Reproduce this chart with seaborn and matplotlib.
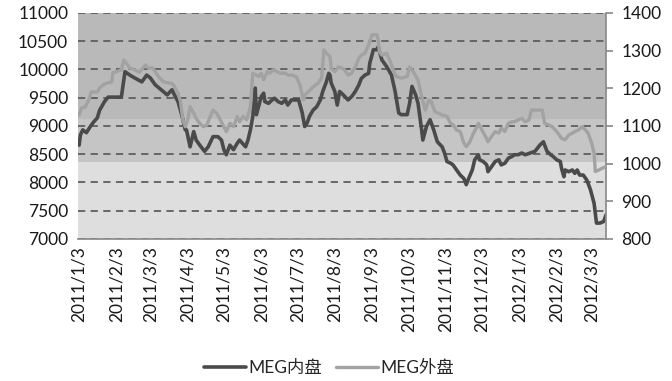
import matplotlib
matplotlib.use('Agg')
import matplotlib.pyplot as plt
import seaborn as sns
import pandas as pd

# MEG内盘 (left axis, yuan/t)
in_dates = [
    '2011-01-03', '2011-01-04', '2011-01-06', '2011-01-09', '2011-01-12', '2011-01-15', '2011-01-18', '2011-01-20', '2011-01-24', '2011-01-27',
    '2011-02-07', '2011-02-10', '2011-02-14', '2011-02-18', '2011-02-24', '2011-02-28',
    '2011-03-03', '2011-03-07', '2011-03-12', '2011-03-17', '2011-03-21', '2011-03-23', '2011-03-26', '2011-03-29',
    '2011-04-01', '2011-04-02', '2011-04-05', '2011-04-08', '2011-04-10', '2011-04-13', '2011-04-17', '2011-04-20', '2011-04-24', '2011-04-28',
    '2011-05-01', '2011-05-03', '2011-05-05', '2011-05-08', '2011-05-11', '2011-05-14', '2011-05-16', '2011-05-21', '2011-05-23', '2011-05-25', '2011-05-27', '2011-05-29', '2011-05-30',
    '2011-06-03', '2011-06-05', '2011-06-06', '2011-06-09', '2011-06-12', '2011-06-14', '2011-06-17', '2011-06-20', '2011-06-23', '2011-06-25', '2011-06-28',
    '2011-07-01', '2011-07-04', '2011-07-07', '2011-07-09', '2011-07-11', '2011-07-13', '2011-07-16', '2011-07-19', '2011-07-22', '2011-07-24', '2011-07-27', '2011-07-29', '2011-07-30', '2011-07-31',
    '2011-08-03', '2011-08-05', '2011-08-07', '2011-08-10', '2011-08-14', '2011-08-17', '2011-08-20', '2011-08-23', '2011-08-25', '2011-08-28', '2011-08-31',
    '2011-09-01', '2011-09-04', '2011-09-07', '2011-09-08', '2011-09-11', '2011-09-15', '2011-09-19', '2011-09-22', '2011-09-25', '2011-09-27',
    '2011-10-02', '2011-10-04', '2011-10-06', '2011-10-09', '2011-10-11', '2011-10-14', '2011-10-15', '2011-10-18', '2011-10-21', '2011-10-24', '2011-10-27', '2011-10-31',
    '2011-11-02', '2011-11-04', '2011-11-07', '2011-11-09', '2011-11-12', '2011-11-15', '2011-11-18', '2011-11-20', '2011-11-22', '2011-11-25', '2011-11-27', '2011-11-30',
    '2011-12-01', '2011-12-04', '2011-12-07', '2011-12-08', '2011-12-11', '2011-12-14', '2011-12-17', '2011-12-19', '2011-12-22', '2011-12-25', '2011-12-28', '2011-12-30',
    '2012-01-02', '2012-01-05', '2012-01-08', '2012-01-12', '2012-01-16', '2012-01-20', '2012-01-23', '2012-01-24', '2012-01-26', '2012-01-29', '2012-01-31',
    '2012-02-03', '2012-02-06', '2012-02-07', '2012-02-09', '2012-02-10', '2012-02-13', '2012-02-16', '2012-02-18', '2012-02-20', '2012-02-22', '2012-02-25', '2012-02-28',
    '2012-03-02', '2012-03-05', '2012-03-07', '2012-03-10', '2012-03-13', '2012-03-15',
]
in_values = [
    8660, 8840, 8930, 8880, 8980, 9070, 9140, 9280, 9430, 9510,
    9510, 9960, 9900, 9850, 9780, 9900,
    9850, 9730, 9640, 9550, 9640, 9550, 9430, 9200,
    8930, 8930, 8630, 8900, 8750, 8660, 8550, 8630, 8810, 8810,
    8750, 8580, 8490, 8660, 8580, 8690, 8750, 8630, 8750, 8930, 9170, 9670, 9200,
    9520, 9580, 9430, 9400, 9460, 9490, 9430, 9400, 9460, 9370, 9460,
    9460, 9460, 9230, 8990, 9050, 9170, 9280, 9340, 9460, 9610, 9780, 9930, 9900, 9760,
    9610, 9370, 9610, 9550, 9460, 9520, 9610, 9730, 9840, 9900, 9930,
    10110, 10350, 10350, 10400, 10170, 10050, 9900, 9610, 9230, 9200,
    9200, 9400, 9700, 9550, 9400, 8930, 8750, 8990, 9110, 8930, 8720, 8630,
    8520, 8370, 8340, 8310, 8220, 8130, 8070, 7960, 8070, 8220, 8400, 8490,
    8400, 8370, 8310, 8190, 8280, 8370, 8400, 8310, 8340, 8430, 8460, 8490,
    8490, 8520, 8490, 8520, 8550, 8660, 8720, 8660, 8550, 8490, 8460,
    8400, 8370, 8250, 8100, 8220, 8190, 8220, 8160, 8220, 8130, 8130, 8040,
    7870, 7630, 7280, 7280, 7310, 7430,
]

# MEG外盘 (right axis, USD/t)
out_dates = [
    '2011-01-03', '2011-01-05', '2011-01-08', '2011-01-11', '2011-01-13', '2011-01-18', '2011-01-20', '2011-01-23', '2011-01-26', '2011-01-30', '2011-01-31',
    '2011-02-07', '2011-02-09', '2011-02-11', '2011-02-14', '2011-02-18', '2011-02-22', '2011-02-27',
    '2011-03-01', '2011-03-05', '2011-03-10', '2011-03-14', '2011-03-18', '2011-03-21', '2011-03-23', '2011-03-26', '2011-03-28', '2011-03-30',
    '2011-04-01', '2011-04-03', '2011-04-05', '2011-04-08', '2011-04-10', '2011-04-13', '2011-04-16', '2011-04-19', '2011-04-21', '2011-04-24', '2011-04-27', '2011-04-30',
    '2011-05-03', '2011-05-05', '2011-05-08', '2011-05-11', '2011-05-14', '2011-05-16', '2011-05-19', '2011-05-22', '2011-05-25', '2011-05-27',
    '2011-06-01', '2011-06-03', '2011-06-05', '2011-06-08', '2011-06-10', '2011-06-13', '2011-06-16', '2011-06-19', '2011-06-23', '2011-06-25', '2011-06-28',
    '2011-07-02', '2011-07-05', '2011-07-08', '2011-07-09', '2011-07-12', '2011-07-15', '2011-07-18', '2011-07-20', '2011-07-23', '2011-07-25', '2011-07-27', '2011-07-30', '2011-07-31',
    '2011-08-03', '2011-08-06', '2011-08-09', '2011-08-11', '2011-08-14', '2011-08-17', '2011-08-20', '2011-08-23', '2011-08-25', '2011-08-28', '2011-08-31',
    '2011-09-03', '2011-09-07', '2011-09-08', '2011-09-09', '2011-09-11', '2011-09-15', '2011-09-18', '2011-09-21', '2011-09-23', '2011-09-27',
    '2011-10-02', '2011-10-04', '2011-10-07', '2011-10-11', '2011-10-14', '2011-10-17', '2011-10-20', '2011-10-22', '2011-10-25', '2011-10-31',
    '2011-11-04', '2011-11-07', '2011-11-09', '2011-11-12', '2011-11-15', '2011-11-18', '2011-11-20', '2011-11-23', '2011-11-26', '2011-11-29', '2011-11-30',
    '2011-12-03', '2011-12-06', '2011-12-08', '2011-12-11', '2011-12-14', '2011-12-17', '2011-12-19', '2011-12-22', '2011-12-25', '2011-12-28', '2011-12-30',
    '2012-01-02', '2012-01-05', '2012-01-08', '2012-01-11', '2012-01-13', '2012-01-17', '2012-01-22', '2012-01-24', '2012-01-27', '2012-01-30',
    '2012-02-02', '2012-02-04', '2012-02-07', '2012-02-10', '2012-02-13', '2012-02-16', '2012-02-18', '2012-02-21', '2012-02-24', '2012-02-27', '2012-02-29',
    '2012-03-03', '2012-03-05', '2012-03-06', '2012-03-09', '2012-03-12', '2012-03-15',
]
out_values = [
    1129, 1148, 1150, 1169, 1190, 1190, 1201, 1209, 1214, 1217, 1241,
    1249, 1275, 1267, 1254, 1249, 1243, 1262,
    1254, 1254, 1230, 1217, 1214, 1213, 1204, 1187, 1165, 1116,
    1098, 1116, 1151, 1134, 1120, 1107, 1098, 1103, 1120, 1142, 1134, 1116,
    1098, 1085, 1107, 1098, 1125, 1111, 1125, 1116, 1151, 1240,
    1231, 1240, 1222, 1244, 1240, 1249, 1244, 1240, 1240, 1235, 1235,
    1231, 1209, 1169, 1182, 1191, 1200, 1209, 1213, 1227, 1302, 1293, 1284, 1253,
    1244, 1257, 1253, 1249, 1235, 1240, 1257, 1280, 1288, 1293, 1315,
    1342, 1342, 1328, 1297, 1288, 1293, 1271, 1244, 1231, 1227,
    1231, 1257, 1244, 1222, 1178, 1142, 1169, 1165, 1138, 1129,
    1125, 1107, 1103, 1089, 1085, 1054, 1045, 1058, 1081, 1098, 1107,
    1089, 1072, 1058, 1072, 1085, 1081, 1094, 1085, 1107, 1111, 1111,
    1116, 1120, 1111, 1116, 1142, 1142, 1142, 1107, 1103, 1098,
    1089, 1081, 1067, 1063, 1076, 1081, 1085, 1089, 1098, 1089, 1081,
    1054, 1028, 979, 983, 988, 992,
]

tick_labels = ['2011/1/3', '2011/2/3', '2011/3/3', '2011/4/3', '2011/5/3', '2011/6/3', '2011/7/3',
               '2011/8/3', '2011/9/3', '2011/10/3', '2011/11/3', '2011/12/3', '2012/1/3',
               '2012/2/3', '2012/3/3']
left_ticks = [7000, 7500, 8000, 8500, 9000, 9500, 10000, 10500, 11000]
right_ticks = [800, 900, 1000, 1100, 1200, 1300, 1400]

sns.set_theme(style='white')
plt.rcParams['font.family'] = ['Lato', 'Noto Sans CJK SC', 'DejaVu Sans']

fig = plt.figure(figsize=(6.72, 3.81), dpi=100)
ax = fig.add_axes([0.116, 0.373, 0.786, 0.593])
ax2 = ax.twinx()

# plot area shading, three flat grey bands
ax.axhspan(7000, 8360, color='#dedede', lw=0, zorder=0)
ax.axhspan(8360, 9120, color='#c5c5c5', lw=0, zorder=0)
ax.axhspan(9120, 11000, color='#b9b9b9', lw=0, zorder=0)

sns.lineplot(x=pd.to_datetime(in_dates), y=in_values, ax=ax, color='#4a4a4a',
             lw=2.6, label='MEG内盘', legend=False, zorder=3)
sns.lineplot(x=pd.to_datetime(out_dates), y=out_values, ax=ax2, color='#a2a2a2',
             lw=2.4, label='MEG外盘', legend=False, zorder=3)

ax.set_xlim(pd.Timestamp('2011-01-02'), pd.Timestamp('2012-03-15'))
ax.set_ylim(7000, 11000)
ax2.set_ylim(800, 1400)

ax.set_yticks(left_ticks)
ax.set_yticklabels([str(t) for t in left_ticks], fontsize=12.5)
ax2.set_yticks(right_ticks)
ax2.set_yticklabels([str(t) for t in right_ticks], fontsize=12.5)
ax.set_xticks(pd.to_datetime(tick_labels, format='%Y/%m/%d'))
ax.set_xticklabels(tick_labels, rotation=90, fontsize=12.5)

ax.yaxis.grid(True, linestyle=(0, (4, 3)), color='#5e5e5e', lw=1.3)
ax.set_axisbelow(True)
ax.set_xlabel('')
ax.set_ylabel('')
ax2.set_ylabel('')

for s in ['left', 'top', 'right']:
    ax.spines[s].set_visible(False)
ax.spines['bottom'].set_color('#8c8c8c')
for s in ['left', 'top', 'bottom']:
    ax2.spines[s].set_visible(False)
ax2.spines['right'].set_color('#8c8c8c')

ax.tick_params(axis='y', length=0, pad=7, colors='#1a1a1a')
ax.tick_params(axis='x', length=0, pad=5, colors='#1a1a1a')
ax2.tick_params(axis='y', right=True, direction='out', length=5, color='#8c8c8c',
                labelcolor='#1a1a1a', pad=6)

handles = ax.get_lines()[:1] + ax2.get_lines()[:1]
fig.legend(handles, ['MEG内盘', 'MEG外盘'], loc='center', bbox_to_anchor=(0.49, 0.034),
           ncol=2, frameon=False, fontsize=12.5, handlelength=2.4, handletextpad=0.15,
           columnspacing=0.8)

fig.savefig('out.png', dpi=100)
